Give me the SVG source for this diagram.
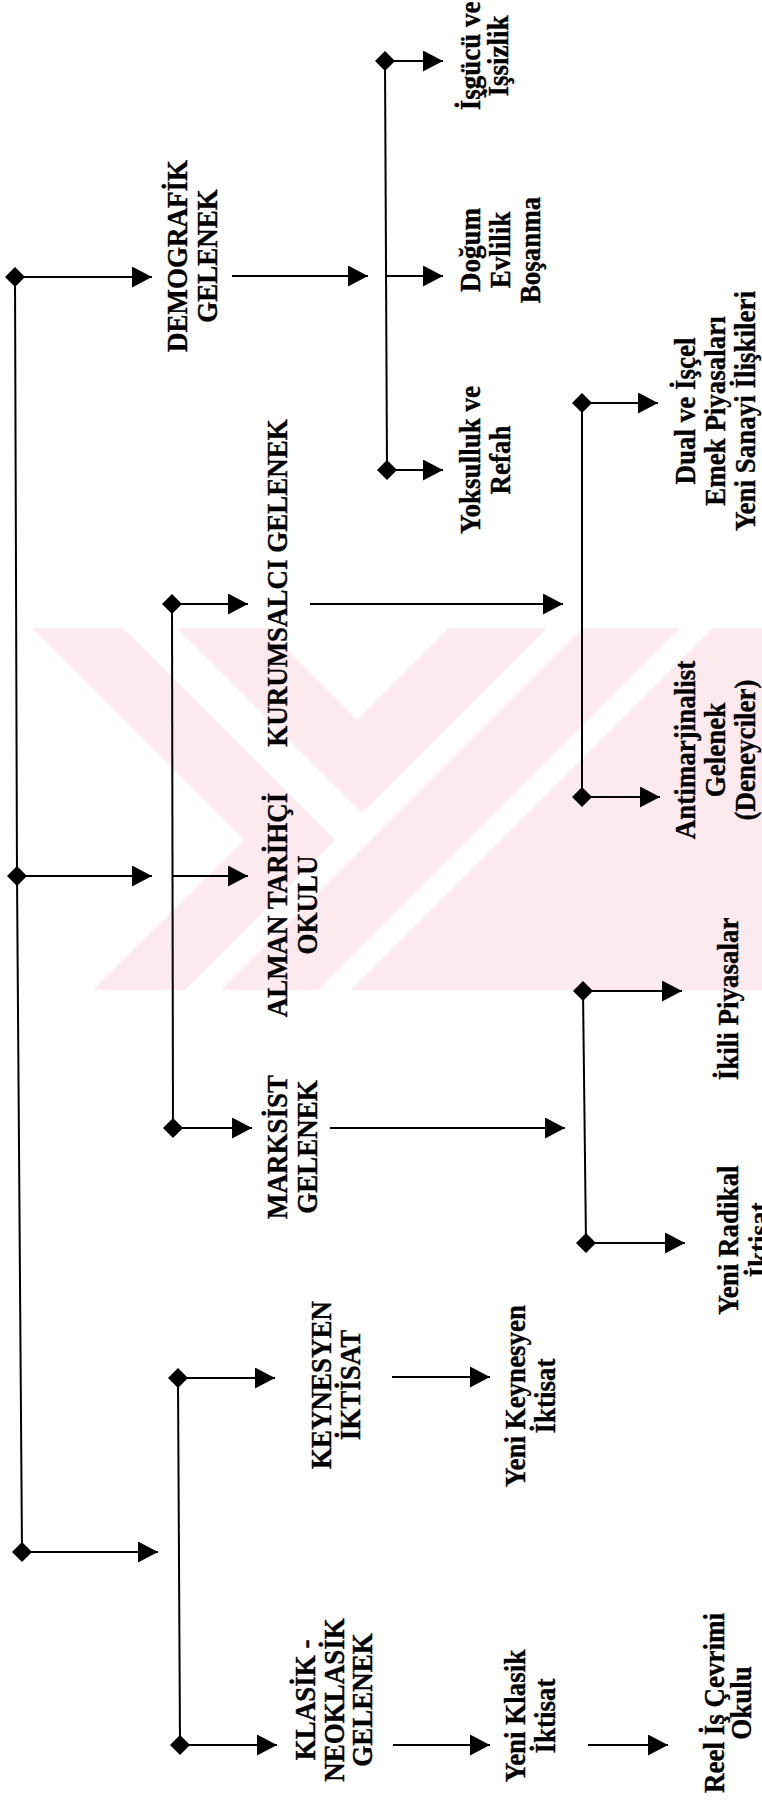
<svg xmlns="http://www.w3.org/2000/svg" width="762" height="1803" viewBox="0 0 762 1803">
<style>
.t{font-family:"Liberation Serif","Times New Roman",serif;font-weight:bold;font-size:27px;fill:#000;stroke:#000;stroke-width:0.35px;text-anchor:middle}
.c{stroke:#000;stroke-width:2;fill:none}
.a{stroke:#000;stroke-width:2;fill:none;marker-end:url(#ah)}
.wm{fill:#fdeaee}
.wg{fill:#fff}
</style>
<defs>
<marker id="ah" markerUnits="userSpaceOnUse" markerWidth="22" markerHeight="22" refX="20" refY="10.5" orient="auto">
<path d="M0,0 L20,10.5 L0,21 z" fill="#000"/>
</marker>
<path id="dm" d="M0,-10 L10,0 L0,10 L-10,0 z" fill="#000"/>
<clipPath id="wc"><rect x="0" y="628" width="762" height="362"/></clipPath>
</defs>
<rect width="762" height="1803" fill="#fff"/>
<g id="watermark" clip-path="url(#wc)">
<polygon class="wm" points="32,628 762,628 762,990 93,990 244,840"/>
<polygon class="wg" points="123,628 177,628 380,831 353,858"/>
<polygon class="wg" points="265,628 449,628 357,720"/>
<polygon class="wg" points="547,628 583,628 221,990 185,990"/>
<polygon class="wg" points="680,628 713,628 351,990 318,990"/>
</g>
<g id="connectors">
<path class="c" d="M15,277 L17,876 L22,1552"/>
<path class="a" d="M15,277 H152"/>
<path class="a" d="M17,876 H152"/>
<path class="a" d="M22,1552 H158"/>
<path class="c" d="M172,604 L173,1128"/>
<path class="a" d="M172,604 H248"/>
<path class="a" d="M173,876 H248"/>
<path class="a" d="M173,1128 H252"/>
<path class="c" d="M178,1378 L180,1745"/>
<path class="a" d="M178,1378 H275"/>
<path class="a" d="M180,1745 H277"/>
<path class="a" d="M232,276 H368"/>
<path class="c" d="M385,61 L387,470"/>
<path class="a" d="M385,61 H443"/>
<path class="a" d="M386,276 H443"/>
<path class="a" d="M387,470 H443"/>
<path class="a" d="M310,604 H563"/>
<path class="c" d="M582,403 L582,797"/>
<path class="a" d="M582,403 H658"/>
<path class="a" d="M582,797 H660"/>
<path class="a" d="M330,1128 H565"/>
<path class="c" d="M583,991 L586,1243"/>
<path class="a" d="M583,991 H682"/>
<path class="a" d="M586,1243 H685"/>
<path class="a" d="M392,1377 H490"/>
<path class="a" d="M393,1745 H490"/>
<path class="a" d="M588,1745 H668"/>
<use href="#dm" x="15" y="277"/>
<use href="#dm" x="17" y="876"/>
<use href="#dm" x="22" y="1552"/>
<use href="#dm" x="172" y="604"/>
<use href="#dm" x="173" y="1128"/>
<use href="#dm" x="178" y="1378"/>
<use href="#dm" x="180" y="1745"/>
<use href="#dm" x="385" y="61"/>
<use href="#dm" x="387" y="470"/>
<use href="#dm" x="582" y="403"/>
<use href="#dm" x="582" y="797"/>
<use href="#dm" x="583" y="991"/>
<use href="#dm" x="586" y="1243"/>
</g>
<g id="n-demografik"><text class="t" transform="translate(187,256) rotate(-90) scale(1,1.08)"><tspan x="0" y="0">DEMOGRAFİK</tspan><tspan x="0" y="27.8">GELENEK</tspan></text></g>
<g id="n-isgucu"><text class="t" transform="translate(480,56) rotate(-90) scale(1,1.08)"><tspan x="0" y="0">İşgücü ve</tspan><tspan x="0" y="25.9">İşsizlik</tspan></text></g>
<g id="n-dogum"><text class="t" transform="translate(480,250) rotate(-90) scale(1,1.08)"><tspan x="0" y="0">Doğum</tspan><tspan x="0" y="27.8">Evlilik</tspan><tspan x="0" y="55.6">Boşanma</tspan></text></g>
<g id="n-yoksulluk"><text class="t" transform="translate(480,460) rotate(-90) scale(1,1.08)"><tspan x="0" y="0">Yoksulluk ve</tspan><tspan x="0" y="27.8">Refah</tspan></text></g>
<g id="n-kurumsalci"><text class="t" transform="translate(287,583) rotate(-90) scale(1,1.08)">KURUMSALCI GELENEK</text></g>
<g id="n-dual"><text class="t" transform="translate(695,411) rotate(-90) scale(1,1.08)"><tspan x="0" y="0">Dual ve İşçel</tspan><tspan x="0" y="27.8">Emek Piyasaları</tspan><tspan x="0" y="55.6">Yeni Sanayi İlişkileri</tspan></text></g>
<g id="n-antimarjinalist"><text class="t" transform="translate(695,750) rotate(-90) scale(1,1.08)"><tspan x="0" y="0">Antimarjinalist</tspan><tspan x="0" y="27.8">Gelenek</tspan><tspan x="0" y="55.6">(Deneyciler)</tspan></text></g>
<g id="n-alman"><text class="t" transform="translate(287,905) rotate(-90) scale(1,1.08)"><tspan x="0" y="0">ALMAN TARİHÇİ</tspan><tspan x="0" y="27.8">OKULU</tspan></text></g>
<g id="n-marksist"><text class="t" transform="translate(287,1147) rotate(-90) scale(1,1.08)"><tspan x="0" y="0">MARKSİST</tspan><tspan x="0" y="27.8">GELENEK</tspan></text></g>
<g id="n-ikili"><text class="t" transform="translate(738,999) rotate(-90) scale(1,1.08)">İkili Piyasalar</text></g>
<g id="n-yeniradikal"><text class="t" transform="translate(738,1240) rotate(-90) scale(1,1.08)"><tspan x="0" y="0">Yeni Radikal</tspan><tspan x="0" y="28.7">İktisat</tspan></text></g>
<g id="n-keynesyen"><text class="t" transform="translate(331,1385) rotate(-90) scale(1,1.08)"><tspan x="0" y="0">KEYNESYEN</tspan><tspan x="0" y="26.9">İKTİSAT</tspan></text></g>
<g id="n-yenikeynesyen"><text class="t" transform="translate(525,1396) rotate(-90) scale(1,1.08)"><tspan x="0" y="0">Yeni Keynesyen</tspan><tspan x="0" y="27.8">İktisat</tspan></text></g>
<g id="n-klasik"><text class="t" transform="translate(315,1700) rotate(-90) scale(1,1.08)"><tspan x="0" y="0">KLASİK -</tspan><tspan x="0" y="26.9">NEOKLASİK</tspan><tspan x="0" y="52.8">GELENEK</tspan></text></g>
<g id="n-yeniklasik"><text class="t" transform="translate(525,1716) rotate(-90) scale(1,1.08)"><tspan x="0" y="0">Yeni Klasik</tspan><tspan x="0" y="27.8">İktisat</tspan></text></g>
<g id="n-reel"><text class="t" transform="translate(724,1703) rotate(-90) scale(1,1.08)"><tspan x="0" y="0">Reel İş Çevrimi</tspan><tspan x="0" y="25">Okulu</tspan></text></g>
</svg>
